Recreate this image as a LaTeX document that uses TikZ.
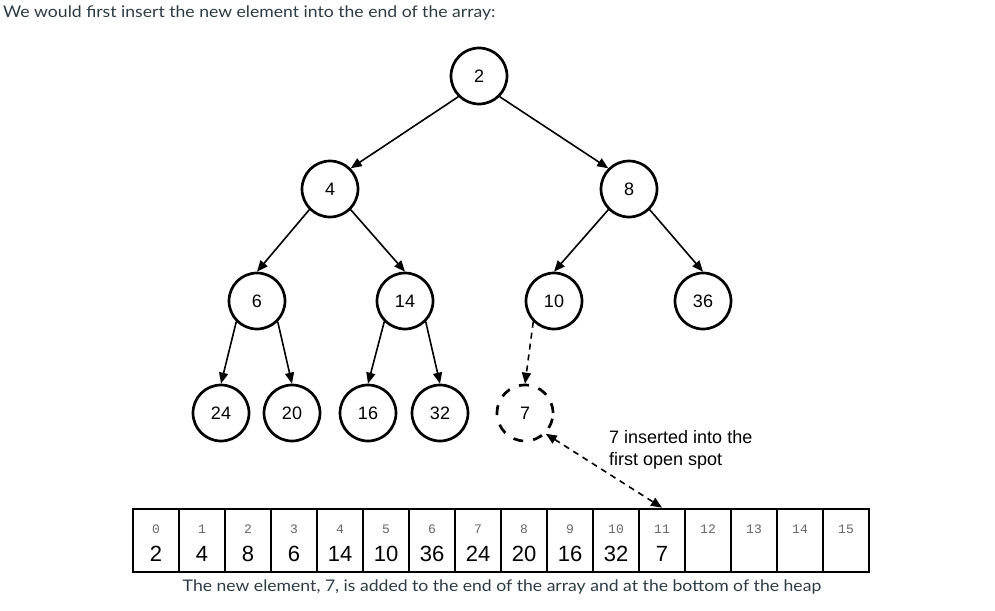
\documentclass[tikz,border=0pt]{standalone}
\usepackage{fontspec}
\setmainfont[FakeStretch=1.1]{Lato}
\newfontfamily\arialfont{Liberation Sans}
\newfontfamily\courfont{Liberation Mono}
\usetikzlibrary{arrows.meta}
\definecolor{canvastext}{HTML}{2D3B45}
\definecolor{idxgray}{HTML}{666666}

\begin{document}
\begin{tikzpicture}
[x=1pt,y=-1pt,
 heap/.style={circle,draw,line width=2.7pt,minimum size=56pt,inner sep=0pt,font=\arialfont\fontsize{18}{20}\selectfont},
 newheap/.style={heap,dash pattern=on 10pt off 10pt},
 edge/.style={line width=1.6pt,-{Triangle[length=11pt,width=9pt]}},
 cell/.style={rectangle,draw,line width=2.7pt,minimum width=46pt,minimum height=63pt,inner sep=0pt},
 idx/.style={inner sep=0pt,anchor=base,text=idxgray,font=\courfont\fontsize{13}{15}\selectfont},
 val/.style={inner sep=0pt,anchor=base,font=\arialfont\fontsize{22}{24}\selectfont},
 prose/.style={inner sep=0pt,text=canvastext,font=\fontsize{16}{19}\selectfont}]

  \useasboundingbox (0,0) rectangle (995,610);

  \node[prose,anchor=base west] (title) at (3,17.5) {We would first insert the new element into the end of the array:};

  % the heap
  \node[heap] (n2) at (479,76) {2};
  \node[heap] (n4) at (330,189) {4};
  \node[heap] (n8) at (629,189) {8};
  \node[heap] (n6) at (257,301) {6};
  \node[heap] (n14) at (405,301) {14};
  \node[heap] (n10) at (554,301) {10};
  \node[heap] (n36) at (703,301) {36};
  \node[heap] (n24) at (221,413) {24};
  \node[heap] (n20) at (292,413) {20};
  \node[heap] (n16) at (368,413) {16};
  \node[heap] (n32) at (440,413) {32};
  \node[newheap] (n7) at (525,413) {7};

  \foreach \from/\a/\to/\b in {n2/225/n4/45, n2/315/n8/135}
    \draw[edge] (\from.\a) -- (\to.\b);
  \foreach \from/\to in {n4/n6, n8/n10, n6/n24, n14/n16}
    \draw[edge] (\from.225) -- (\to.north);
  \foreach \from/\to in {n4/n14, n8/n36, n6/n20, n14/n32}
    \draw[edge] (\from.315) -- (\to.north);
  \draw[edge,dash pattern=on 6pt off 5pt] (n10.225) -- (n7.north);

  % the array
  \foreach \i in {0,...,15} {
    \node[cell] (c\i) at (156+46*\i,540.5) {};
    \node[idx] (i\i) at (156+46*\i,533) {\i};
  }
  \foreach \i/\v in {0/2,1/4,2/8,3/6,4/14,5/10,6/36,7/24,8/20,9/16,10/32,11/7}
    \node[val] (v\i) at (156+46*\i,561) {\v};

  \node[inner sep=0pt,anchor=west,align=left,font=\arialfont\fontsize{18}{22}\selectfont] (note) at (609,450)
    {7 inserted into the\\first open spot};
  \draw[edge,{Triangle[length=11pt,width=9pt]}-{Triangle[length=11pt,width=9pt]},dash pattern=on 6pt off 5pt] (n7.-45) -- (c11.north);

  \node[prose,anchor=base] (caption) at (502,591) {The new element, 7, is added to the end of the array and at the bottom of the heap};

\end{tikzpicture}
\end{document}
